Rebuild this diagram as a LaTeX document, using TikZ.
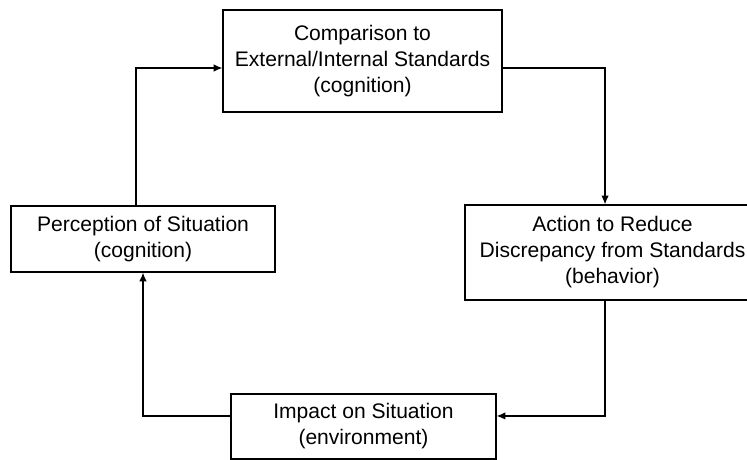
\documentclass[tikz,border=0pt]{standalone}
\usepackage{fontspec}
\setmainfont{Liberation Sans}
\usetikzlibrary{arrows.meta}

\tikzset{
  box/.style={draw, line width=0.9pt, inner sep=0pt, align=center,
    font=\fontsize{15.8}{19.5}\selectfont},
  flow/.style={line width=0.9pt, -{Latex[length=6.5pt,width=5.5pt]}}
}

\begin{document}
\begin{tikzpicture}[x=0.75pt,y=0.75pt,yscale=-1]
  %set diagram 747 x 460, right box runs off the edge
  \clip (0,0) rectangle (747,460);

  % Box: comparison
  \draw (362.5,61) node [box, minimum width=209.25pt, minimum height=76.5pt] (comp)
    {Comparison to\\External/Internal Standards\\(cognition)};
  % Box: action
  \draw (612.5,252.5) node [box, minimum width=221.25pt, minimum height=71.25pt] (act)
    {Action to Reduce\\Discrepancy from Standards\\(behavior)};
  % Box: impact
  \draw (363.5,426.5) node [box, minimum width=198.75pt, minimum height=48.75pt] (imp)
    {Impact on Situation\\(environment)};
  % Box: perception
  \draw (143,239) node [box, minimum width=198pt, minimum height=49.5pt] (perc)
    {Perception of Situation\\(cognition)};

  %Connectors
  \draw [flow] ([xshift=-5.25pt]perc.north) |- ([yshift=5.25pt]comp.west);
  \draw [flow] ([yshift=5.25pt]comp.east) -| ([xshift=-5.6pt]act.north);
  \draw [flow] ([xshift=-5.6pt]act.south) |- ([yshift=-7.9pt]imp.east);
  \draw [flow] ([yshift=-7.9pt]imp.west) -| (perc.south);
\end{tikzpicture}
\end{document}
